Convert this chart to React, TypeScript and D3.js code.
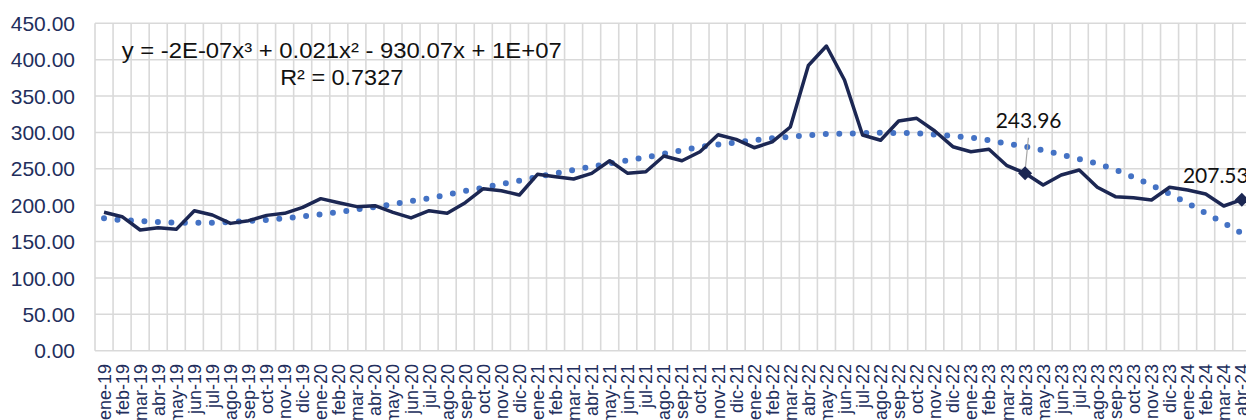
import React from "react";
import * as d3 from "d3";

const MONTHS: string[] = [
  "ene-19","feb-19","mar-19","abr-19","may-19","jun-19","jul-19","ago-19","sep-19","oct-19","nov-19","dic-19",
  "ene-20","feb-20","mar-20","abr-20","may-20","jun-20","jul-20","ago-20","sep-20","oct-20","nov-20","dic-20",
  "ene-21","feb-21","mar-21","abr-21","may-21","jun-21","jul-21","ago-21","sep-21","oct-21","nov-21","dic-21",
  "ene-22","feb-22","mar-22","abr-22","may-22","jun-22","jul-22","ago-22","sep-22","oct-22","nov-22","dic-22",
  "ene-23","feb-23","mar-23","abr-23","may-23","jun-23","jul-23","ago-23","sep-23","oct-23","nov-23","dic-23",
  "ene-24","feb-24","mar-24","abr-24",
];

const VALUES: number[] = [
  190.2, 184.2, 165.9, 169.0, 166.8, 192.4, 186.5, 175.0, 178.7, 186.0, 188.8, 197.0,
  209.0, 203.4, 198.0, 199.3, 190.2, 182.5, 192.4, 188.8, 203.4, 222.7, 219.9, 214.0,
  242.4, 239.0, 236.0, 243.8, 261.0, 243.8, 246.0, 267.6, 261.0, 273.5, 296.9, 290.5,
  279.0, 287.0, 307.5, 392.0, 418.8, 372.0, 296.5, 289.2, 315.7, 319.4, 302.0, 280.4,
  273.5, 276.8, 254.3, 243.96, 227.7, 241.5, 248.4, 224.6, 211.7, 210.3, 207.1, 224.6,
  220.9, 215.4, 198.9, 207.53,
];

const TREND: number[] = [
  182, 179.6, 178.3, 176.9, 176, 176, 176, 176.9, 178.3, 179.6, 182, 184.7,
  187.4, 190.6, 194.3, 197.5, 201.6, 205.7, 209.4, 214.4, 219.5, 224, 229, 233.7,
  238.7, 243.8, 248.4, 252.9, 257.5, 261.7, 265.8, 270.8, 275.4, 280, 283.2, 286.4,
  289.2, 291.9, 294.1, 296, 297.8, 298.2, 299.2, 299.6, 299.2, 298.8, 296.9, 295.1,
  292.8, 289.2, 284.5, 280.4, 275.4, 269.4, 263.5, 257.0, 248.5, 238.5, 227.5, 215.5,
  202.6, 189.0, 175.5, 161.5,
];

const Y_TICKS: number[] = [0, 50, 100, 150, 200, 250, 300, 350, 400, 450];

const LABELED: { month: string; text: string; dx: number; dy: number; leader: boolean }[] = [
  { month: "abr-23", text: "243.96", dx: 3.5, dy: -45.5, leader: true },
  { month: "abr-24", text: "207.53", dx: -26, dy: -16.5, leader: false },
];

const EQUATION = "y = -2E-07x³ + 0.021x² - 930.07x + 1E+07";
const R2 = "R² = 0.7327";

const W = 1246;
const H = 420;
const LEFT = 95;
const BAND = 18.06;
const TOP = 23.3;
const BOTTOM = 350.7;

const NAVY = "#1C2753";
const LABEL = "#222E5C";
const TREND_C = "#4472C4";
const GRID = "#D9D9D9";

export default function App() {
  const x = d3
    .scaleBand<string>()
    .domain(MONTHS)
    .range([LEFT, LEFT + BAND * MONTHS.length])
    .paddingInner(0)
    .paddingOuter(0);
  const y = d3.scaleLinear().domain([0, 450]).range([BOTTOM, TOP]);
  const cx = (m: string) => (x(m) as number) + x.bandwidth() / 2;

  const line = d3
    .line<number>()
    .x((_, i) => cx(MONTHS[i]))
    .y((d) => y(d));
  const trend = d3
    .line<number>()
    .x((_, i) => cx(MONTHS[i]))
    .y((d) => y(d))
    .curve(d3.curveMonotoneX);

  const boundaries = MONTHS.map((m) => x(m) as number).concat([LEFT + BAND * MONTHS.length]);
  const font = "'Liberation Sans', Arial, sans-serif";

  return (
    <svg
      width={W}
      height={H}
      style={{ position: "absolute", left: 0, top: 0, display: "block", background: "#fff" }}
    >
      {Y_TICKS.map((t) => (
        <line key={"h" + t} x1={LEFT} x2={W + 10} y1={y(t)} y2={y(t)} stroke={GRID} strokeWidth={1.6} />
      ))}
      {boundaries.map((bx, i) => (
        <line key={"v" + i} x1={bx} x2={bx} y1={TOP} y2={BOTTOM} stroke={GRID} strokeWidth={1.6} />
      ))}
      {Y_TICKS.map((t) => (
        <text
          key={"yl" + t}
          x={75}
          y={y(t)}
          dy="0.36em"
          textAnchor="end"
          fontFamily={font}
          fontSize={21}
          fill={LABEL}
        >
          {d3.format(".2f")(t)}
        </text>
      ))}
      {MONTHS.map((m) => (
        <text
          key={"xl" + m}
          transform={`translate(${cx(m)},364) rotate(-90)`}
          dy="0.36em"
          textAnchor="end"
          fontFamily={font}
          fontSize={18}
          fill={LABEL}
        >
          {m}
        </text>
      ))}
      <path
        d={trend(TREND) || ""}
        fill="none"
        stroke={TREND_C}
        strokeWidth={6}
        strokeLinecap="round"
        strokeDasharray="0 13.5"
      />
      <path d={line(VALUES) || ""} fill="none" stroke={NAVY} strokeWidth={3.5} strokeLinejoin="round" />
      {LABELED.map((l) => {
        const i = MONTHS.indexOf(l.month);
        const px = cx(l.month);
        const py = y(VALUES[i]);
        const r = 7;
        return (
          <g key={"lab" + l.month}>
            {l.leader && (
              <line x1={px + 3.3} y1={py - 35.5} x2={px} y2={py - 2} stroke="#A6A6A6" strokeWidth={1.2} />
            )}
            <path d={`M${px},${py - r}L${px + r},${py}L${px},${py + r}L${px - r},${py}Z`} fill={NAVY} />
            <text
              x={px + l.dx}
              y={py + l.dy}
              textAnchor="middle"
              fontFamily="Lato, 'Open Sans', sans-serif"
              fontSize={21}
              fill="#111"
            >
              {l.text}
            </text>
          </g>
        );
      })}
      <text
        x={341.7}
        y={58.3}
        textAnchor="middle"
        fontFamily={font}
        fontSize={21.5}
        fill="#111"
        textLength={440}
        lengthAdjust="spacingAndGlyphs"
      >
        {EQUATION}
      </text>
      <text
        x={341.7}
        y={85}
        textAnchor="middle"
        fontFamily={font}
        fontSize={21.5}
        fill="#111"
        textLength={123}
        lengthAdjust="spacingAndGlyphs"
      >
        {R2}
      </text>
    </svg>
  );
}
